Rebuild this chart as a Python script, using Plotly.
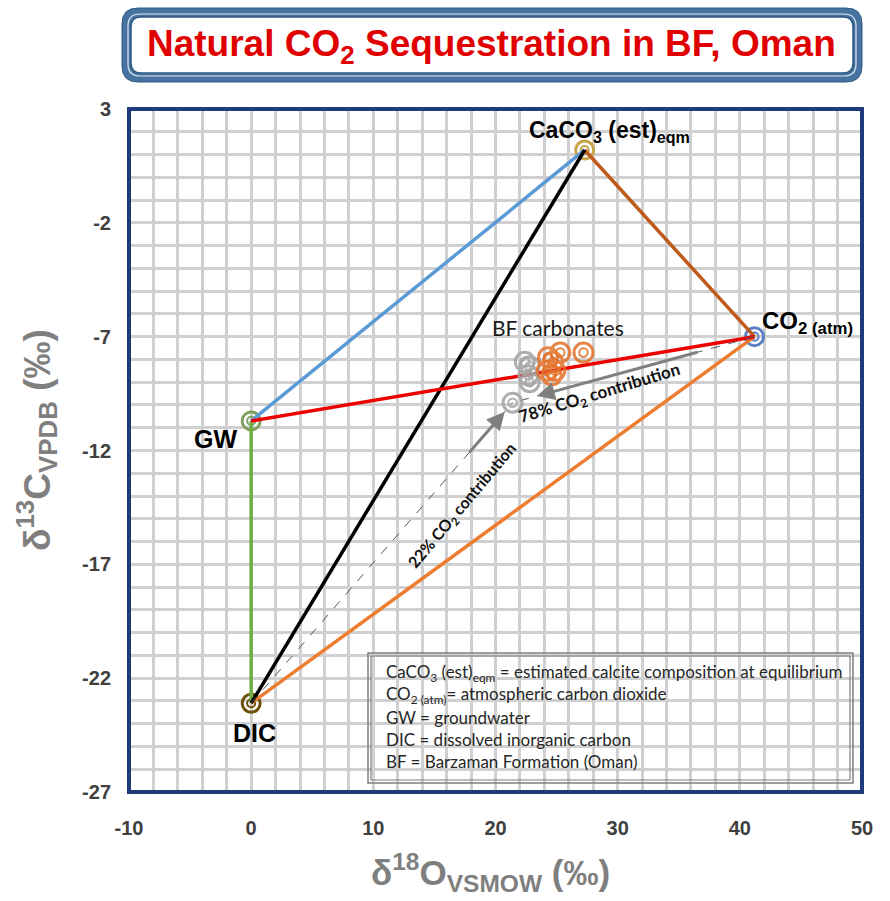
import plotly.graph_objects as go

# End-member compositions (d18O VSMOW, d13C VPDB, permil)
end_names = ["CaCO3", "CO2", "GW", "DIC"]
end_d18o = [27.3, 41.2, 0.0, 0.0]
end_d13c = [1.2, -7.0, -10.7, -23.1]
end_colors = ["#c9a54a", "#5a7fc4", "#7f9f5f", "#6b5208"]

# BF carbonate samples
orange_d18o = [25.3, 27.2, 24.3, 24.7, 24.2, 24.6, 24.9]
orange_d13c = [-7.7, -7.7, -7.9, -8.1, -8.5, -8.7, -8.5]
gray_d18o = [22.4, 22.8, 22.7, 22.8, 21.4]
gray_d13c = [-8.1, -8.3, -8.7, -9.0, -9.9]

# Mixing lines between end members: (from, to, colour)
links = [
    ("GW", "CaCO3", "#5b9bd5"),
    ("CaCO3", "CO2", "#bf5a1a"),
    ("DIC", "CO2", "#ed7d31"),
    ("GW", "DIC", "#70ad47"),
    ("DIC", "CaCO3", "#000000"),
    ("GW", "CO2", "#ee0000"),
]

x_ticks = [-10, 0, 10, 20, 30, 40, 50]
y_ticks = [3, -2, -7, -12, -17, -22, -27]

W, H = 890, 901
L, R, T, B = 129, 862, 109, 792


def px(x):
    return (x - L) / (R - L)


def py(y):
    return (B - y) / (B - T)


pt = {n: (x, y) for n, x, y in zip(end_names, end_d18o, end_d13c)}

fig = go.Figure()


def ring(xs, ys, color, size=17, opacity=1.0):
    fig.add_trace(go.Scatter(
        x=xs, y=ys, mode="markers", hoverinfo="skip",
        marker=dict(symbol="circle-open", size=size, color=color,
                    line=dict(width=3, color=color)), opacity=opacity))
    fig.add_trace(go.Scatter(
        x=xs, y=ys, mode="markers", hoverinfo="skip",
        marker=dict(symbol="circle-open", size=size * 0.45, color=color,
                    line=dict(width=2, color=color)), opacity=opacity))


# end-member markers
for n, c in zip(end_names, end_colors):
    ring([pt[n][0]], [pt[n][1]], c, size=18)

# mixing lines
for a, b, c in links:
    fig.add_trace(go.Scatter(
        x=[pt[a][0], pt[b][0]], y=[pt[a][1], pt[b][1]], mode="lines",
        line=dict(color=c, width=3.5), hoverinfo="skip"))

# dashed mixing paths toward the lightest sample
tx, ty = gray_d18o[-1], gray_d13c[-1]
for src in ["DIC", "CO2"]:
    fig.add_trace(go.Scatter(
        x=[pt[src][0], tx], y=[pt[src][1], ty], mode="lines",
        line=dict(color="#555555", width=1, dash="dash"), hoverinfo="skip"))

# samples
ring(gray_d18o, gray_d13c, "#a6a6a6", size=19, opacity=0.9)
ring(orange_d18o, orange_d13c, "#e4712a", size=19, opacity=0.85)

annotations = []


def along(src, t):
    sx, sy = pt[src]
    return sx + (tx - sx) * t, sy + (ty - sy) * t


# contribution arrows
for src, t0, t1 in [("CO2", 0.23, 0.90), ("DIC", 0.83, 0.97)]:
    x0, y0 = along(src, t0)
    x1, y1 = along(src, t1)
    annotations.append(dict(
        x=x1, y=y1, ax=x0, ay=y0, xref="x", yref="y", axref="x", ayref="y",
        text="", showarrow=True, arrowhead=2, arrowsize=1.2, arrowwidth=3,
        arrowcolor="#7f7f7f"))

bold_lbl = dict(family="Liberation Sans, Arial", size=25, color="#000000", weight="bold")
annotations += [
    dict(x=pt["CaCO3"][0], y=pt["CaCO3"][1], xref="x", yref="y", showarrow=False,
         text="CaCO<sub>3</sub> (est)<sub>eqm</sub>", xanchor="left", yanchor="middle",
         xshift=-58, yshift=18, font=dict(bold_lbl, size=23)),
    dict(x=pt["CO2"][0], y=pt["CO2"][1], xref="x", yref="y", showarrow=False,
         text="CO<sub>2 (atm)</sub>", xanchor="left", yanchor="middle",
         xshift=6, yshift=14, font=dict(bold_lbl, size=24)),
    dict(x=pt["GW"][0], y=pt["GW"][1], xref="x", yref="y", showarrow=False,
         text="GW", xanchor="center", yanchor="middle",
         xshift=-36, yshift=-18, font=bold_lbl),
    dict(x=pt["DIC"][0], y=pt["DIC"][1], xref="x", yref="y", showarrow=False,
         text="DIC", xanchor="center", yanchor="middle",
         xshift=3, yshift=-30, font=bold_lbl),
    dict(x=px(490), y=py(327), xref="paper", yref="paper", showarrow=False,
         text="BF carbonates", xanchor="left", yanchor="middle",
         font=dict(family="Lato, Carlito, sans-serif", size=21, color="#1a1a1a")),
    dict(x=px(599), y=py(394), xref="paper", yref="paper", showarrow=False,
         text="78% CO<sub>2</sub> contribution", textangle=-17,
         xanchor="center", yanchor="middle",
         font=dict(family="Lato, sans-serif", size=17, color="#111111", weight="bold")),
    dict(x=px(462), y=py(505), xref="paper", yref="paper", showarrow=False,
         text="22% CO<sub>2</sub> contribution", textangle=-50,
         xanchor="center", yanchor="middle",
         font=dict(family="Lato, sans-serif", size=16, color="#111111", weight="bold")),
]

# key box
key_lines = [
    "CaCO<sub>3</sub> (est)<sub>eqm</sub> = estimated calcite composition at equilibrium",
    "CO<sub>2 (atm)</sub>= atmospheric carbon dioxide",
    "GW = groundwater",
    "DIC = dissolved inorganic carbon",
    "BF = Barzaman Formation (Oman)",
]
for i, s in enumerate(key_lines):
    annotations.append(dict(
        x=px(384), y=py(673 + 22.2 * i), xref="paper", yref="paper", showarrow=False,
        text=s, xanchor="left", yanchor="middle",
        font=dict(family="Lato, Carlito, sans-serif", size=17, color="#262626")))

# axis titles and chart title
annotations += [
    dict(x=px(490), y=py(872), xref="paper", yref="paper", showarrow=False,
         text="δ<sup>18</sup>O<sub>VSMOW</sub> (‰)", xanchor="center", yanchor="middle",
         font=dict(family="Liberation Sans, Arial", size=35, color="#7f7f7f", weight="bold")),
    dict(x=px(36), y=py(440), xref="paper", yref="paper", showarrow=False,
         text="δ<sup>13</sup>C<sub>VPDB</sub> (‰)", textangle=-90,
         xanchor="center", yanchor="middle",
         font=dict(family="Liberation Sans, Arial", size=37, color="#7f7f7f", weight="bold")),
    dict(x=px(491), y=py(46), xref="paper", yref="paper", showarrow=False,
         text="Natural CO<sub>2</sub> Sequestration in BF, Oman",
         xanchor="center", yanchor="middle",
         font=dict(family="Liberation Sans, Arial", size=37, color="#e00000", weight="bold")),
]


def rounded(x0, y0, x1, y1, r):
    X0, X1 = px(x0), px(x1)
    Y0, Y1 = py(y0), py(y1)
    rx = r / (R - L)
    ry = r / (B - T)
    return (f"M {X0 + rx},{Y0} L {X1 - rx},{Y0} Q {X1},{Y0} {X1},{Y0 - ry} "
            f"L {X1},{Y1 + ry} Q {X1},{Y1} {X1 - rx},{Y1} L {X0 + rx},{Y1} "
            f"Q {X0},{Y1} {X0},{Y1 + ry} L {X0},{Y0 - ry} Q {X0},{Y0} {X0 + rx},{Y0} Z")


shapes = [
    # title panel
    dict(type="path", xref="paper", yref="paper", layer="above",
         path=rounded(122, 8, 862, 82, 16), fillcolor="#46739f",
         line=dict(color="#2f5a85", width=1)),
    dict(type="path", xref="paper", yref="paper", layer="above",
         path=rounded(128, 14, 856, 76, 12), fillcolor="#46739f",
         line=dict(color="#dfe8f2", width=1.2)),
    dict(type="path", xref="paper", yref="paper", layer="above",
         path=rounded(131, 17, 853, 73, 10), fillcolor="#ffffff",
         line=dict(color="#2f5a85", width=1.5)),
    # plot frame
    dict(type="rect", xref="paper", yref="paper", x0=0, y0=0, x1=1, y1=1,
         line=dict(color="#1f3b7a", width=4), layer="above"),
    # key box double border
    dict(type="rect", xref="paper", yref="paper", x0=px(368), x1=px(853),
         y0=py(783), y1=py(653), line=dict(color="#7f7f7f", width=1.5)),
    dict(type="rect", xref="paper", yref="paper", x0=px(371), x1=px(850),
         y0=py(780), y1=py(656), line=dict(color="#7f7f7f", width=1.2)),
]

tick_font = dict(family="Liberation Sans, Arial", size=20, color="#404040", weight="bold")
grid = dict(showgrid=True, gridcolor="#d0d0d0", gridwidth=2.5)

fig.update_layout(
    width=W, height=H,
    margin=dict(l=L, r=W - R, t=T, b=H - B),
    paper_bgcolor="white", plot_bgcolor="white",
    showlegend=False,
    xaxis=dict(range=[-10, 50], tickvals=x_ticks, ticktext=[str(v) for v in x_ticks],
               **grid, minor=dict(dtick=2, tick0=0, **grid),
               zeroline=False, showline=False, ticks="", ticklabelstandoff=22,
               tickfont=tick_font),
    yaxis=dict(range=[-27, 3], tickvals=y_ticks, ticktext=[str(v) for v in y_ticks],
               **grid, minor=dict(dtick=1, tick0=0, **grid),
               zeroline=False, showline=False, ticks="", ticklabelstandoff=17,
               tickfont=tick_font),
    shapes=shapes,
    annotations=annotations,
)

fig.write_html("out.html")
